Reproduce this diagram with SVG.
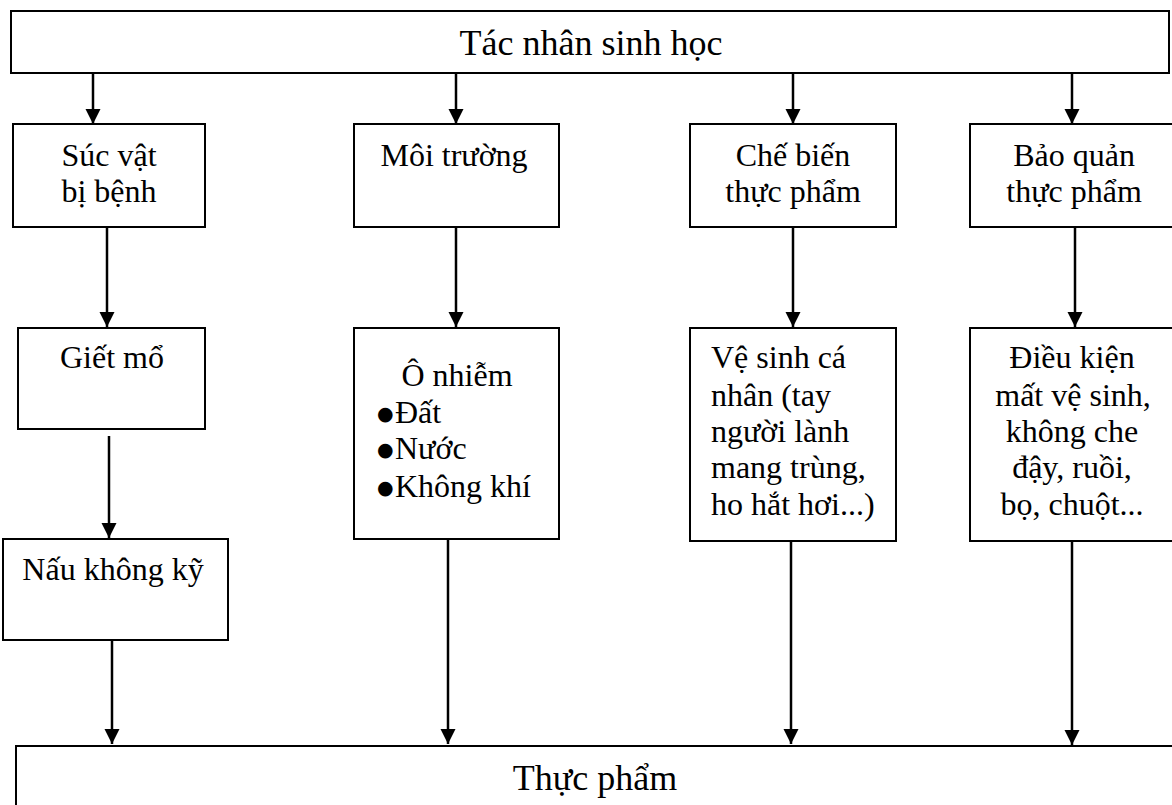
<svg xmlns="http://www.w3.org/2000/svg" width="1172" height="805" viewBox="0 0 1172 805">
<style>
.box{fill:#fff;stroke:#000;stroke-width:2}
.t{font-family:"Liberation Serif","Times New Roman",serif;font-size:32px;fill:#000}
.big{font-size:36px}
.c{text-anchor:middle}
.bul{font-family:"DejaVu Sans",sans-serif;font-size:19px}
.con line{stroke:#000;stroke-width:2.5}
</style>
<defs>
<marker id="ah" markerUnits="userSpaceOnUse" markerWidth="16" markerHeight="16" viewBox="0 0 16 16" refX="15" refY="8" orient="auto">
<path d="M0,0.5 L15,8 L0,15.5 Z" fill="#000"/>
</marker>
</defs>
<rect width="1172" height="805" fill="#fff"/>
<g id="n-top"><rect class="box" x="11" y="11" width="1158" height="62"/><text class="t big c" x="591" y="55">Tác nhân sinh học</text></g>
<g id="n-sucvat"><rect class="box" x="13" y="124" width="192" height="103"/><text class="t c" x="109" y="166">Súc vật</text><text class="t c" x="109" y="202">bị bệnh</text></g>
<g id="n-moitruong"><rect class="box" x="354" y="124" width="205" height="103"/><text class="t c" x="454" y="166">Môi trường</text></g>
<g id="n-chebien"><rect class="box" x="690" y="124" width="206" height="103"/><text class="t c" x="793" y="166">Chế biến</text><text class="t c" x="793" y="202">thực phẩm</text></g>
<g id="n-baoquan"><rect class="box" x="970" y="124" width="215" height="103"/><text class="t c" x="1074" y="166">Bảo quản</text><text class="t c" x="1074" y="202">thực phẩm</text></g>
<g id="n-gietmo"><rect class="box" x="18" y="328" width="187" height="101"/><text class="t c" x="112" y="368">Giết mổ</text></g>
<g id="n-onhiem"><rect class="box" x="354" y="328" width="205" height="211"/><text class="t c" x="457" y="386">Ô nhiễm</text>
<text class="t"><tspan class="bul" x="377" y="420">●</tspan><tspan x="395" y="423">Đất</tspan></text>
<text class="t"><tspan class="bul" x="377" y="456">●</tspan><tspan x="395" y="459">Nước</tspan></text>
<text class="t"><tspan class="bul" x="377" y="494">●</tspan><tspan x="395" y="497">Không khí</tspan></text></g>
<g id="n-vesinh"><rect class="box" x="690" y="328" width="206" height="213"/>
<text class="t" x="711" y="368">Vệ sinh cá</text><text class="t" x="711" y="406">nhân (tay</text><text class="t" x="711" y="442">người lành</text><text class="t" x="711" y="478">mang trùng,</text><text class="t" x="711" y="515">ho hắt hơi...)</text></g>
<g id="n-dieukien"><rect class="box" x="970" y="328" width="215" height="213"/>
<text class="t c" x="1072" y="368">Điều kiện</text><text class="t c" x="1073" y="406">mất vệ sinh,</text><text class="t c" x="1072" y="442">không che</text><text class="t c" x="1072" y="478">đậy, ruồi,</text><text class="t c" x="1072" y="515">bọ, chuột...</text></g>
<g id="n-nau"><rect class="box" x="3" y="539" width="225" height="101"/><text class="t c" x="113" y="580">Nấu không kỹ</text></g>
<g id="n-thucpham"><rect class="box" x="16" y="746" width="1170" height="80"/><text class="t big c" x="595" y="790">Thực phẩm</text></g>
<g id="connectors" class="con">
<line x1="93" y1="74" x2="93" y2="124" marker-end="url(#ah)"/>
<line x1="456" y1="74" x2="456" y2="124" marker-end="url(#ah)"/>
<line x1="793" y1="74" x2="793" y2="124" marker-end="url(#ah)"/>
<line x1="1072" y1="74" x2="1072" y2="124" marker-end="url(#ah)"/>
<line x1="107" y1="227" x2="107" y2="327" marker-end="url(#ah)"/>
<line x1="456" y1="227" x2="456" y2="327" marker-end="url(#ah)"/>
<line x1="793" y1="227" x2="793" y2="327" marker-end="url(#ah)"/>
<line x1="1075" y1="227" x2="1075" y2="327" marker-end="url(#ah)"/>
<line x1="109" y1="436" x2="109" y2="538" marker-end="url(#ah)"/>
<line x1="112" y1="640" x2="112" y2="744" marker-end="url(#ah)"/>
<line x1="448" y1="539" x2="448" y2="744" marker-end="url(#ah)"/>
<line x1="791" y1="541" x2="791" y2="744" marker-end="url(#ah)"/>
<line x1="1072" y1="542" x2="1072" y2="745" marker-end="url(#ah)"/>
</g>
</svg>
